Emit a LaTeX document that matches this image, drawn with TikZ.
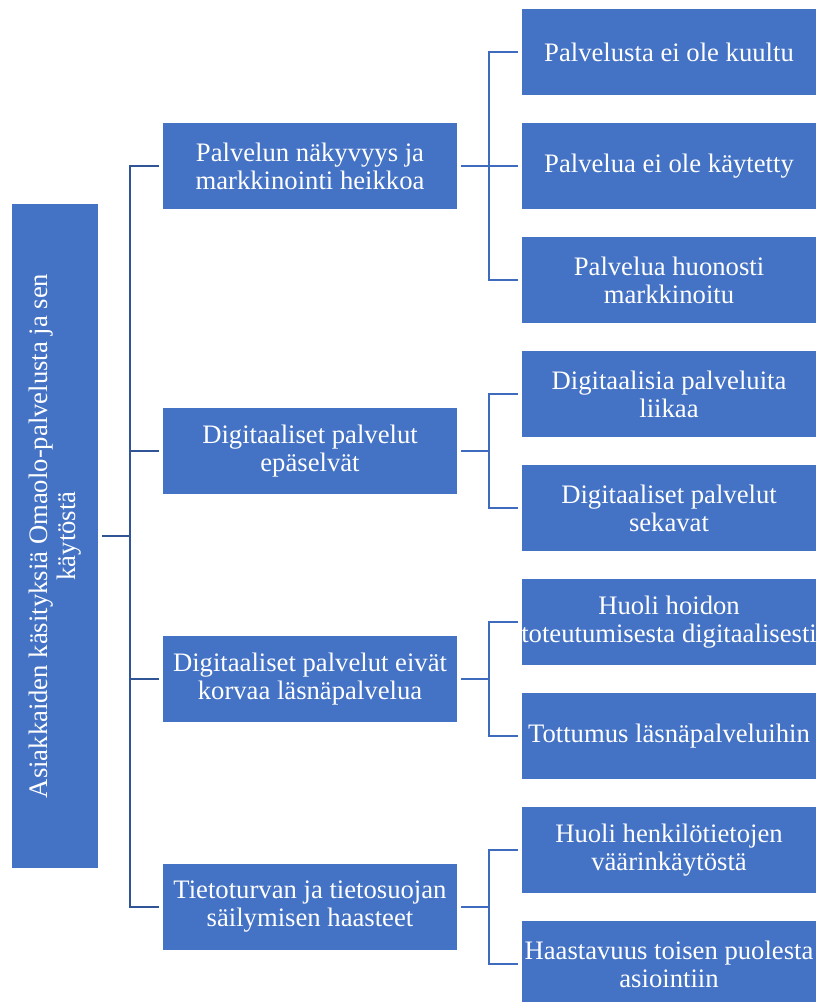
\documentclass[tikz,border=0pt]{standalone}
\usepackage{fontspec}
\setmainfont{Liberation Serif}
\usepackage{tikz}
\usetikzlibrary{shapes, arrows.meta, positioning}
\definecolor{boxblue}{HTML}{4472C4}
\definecolor{lineblue}{HTML}{2F5597}
\definecolor{subblue}{HTML}{3F6BBE}

\begin{document}
\begin{tikzpicture}[x=0.75pt, y=-0.75pt,
        box/.style={draw=white, line width=0.8pt, fill=boxblue, text=white, align=center,
            font=\fontsize{20}{21}\selectfont, inner sep=0pt,
            minimum width=222pt, minimum height=66pt},
        conn/.style={draw=lineblue, line width=2pt, shorten >=2pt, shorten <=2pt}]
        \useasboundingbox (0,0) rectangle (817,1002);

        % Root
        \node[box, rotate=90, minimum width=499.5pt] (root) at (55,536)
            {Asiakkaiden käsityksiä Omaolo-palvelusta ja sen\\käytöstä};

        % Main themes
        \foreach \i/\y/\txt in {1/166/{Palvelun näkyvyys ja\\markkinointi heikkoa},
                                2/451/{Digitaaliset palvelut\\epäselvät},
                                3/679/{Digitaaliset palvelut eivät\\korvaa läsnäpalvelua},
                                4/907/{Tietoturvan ja tietosuojan\\säilymisen haasteet}} {
            \node[box] (mid\i) at (310,\y) {\txt};
            \coordinate (b\i) at (489,\y);
        }

        % Sub themes
        \foreach \i/\y/\txt in {1/52/{Palvelusta ei ole kuultu},
                                2/166/{Palvelua ei ole käytetty},
                                3/280/{Palvelua huonosti\\markkinoitu},
                                4/394/{Digitaalisia palveluita\\liikaa},
                                5/508/{Digitaaliset palvelut\\sekavat},
                                6/622/{Huoli hoidon\\toteutumisesta digitaalisesti},
                                7/736/{Tottumus läsnäpalveluihin},
                                8/850/{Huoli henkilötietojen\\väärinkäytöstä},
                                9/964/{Haastavuus toisen puolesta\\asiointiin}} {
            \node[box] (leaf\i) at (669,\y) {\txt};
        }

        % Connectors
        \coordinate (spine) at (130,536);
        \foreach \m in {1,2,3,4} {
            \draw[conn] (root.south) -- (spine) |- (mid\m.west);
        }
        \foreach \m/\l in {1/1, 1/2, 1/3, 2/4, 2/5, 3/6, 3/7, 4/8, 4/9} {
            \draw[conn, draw=subblue] (mid\m.east) -- (b\m) |- (leaf\l.west);
        }
    \end{tikzpicture}
\end{document}
